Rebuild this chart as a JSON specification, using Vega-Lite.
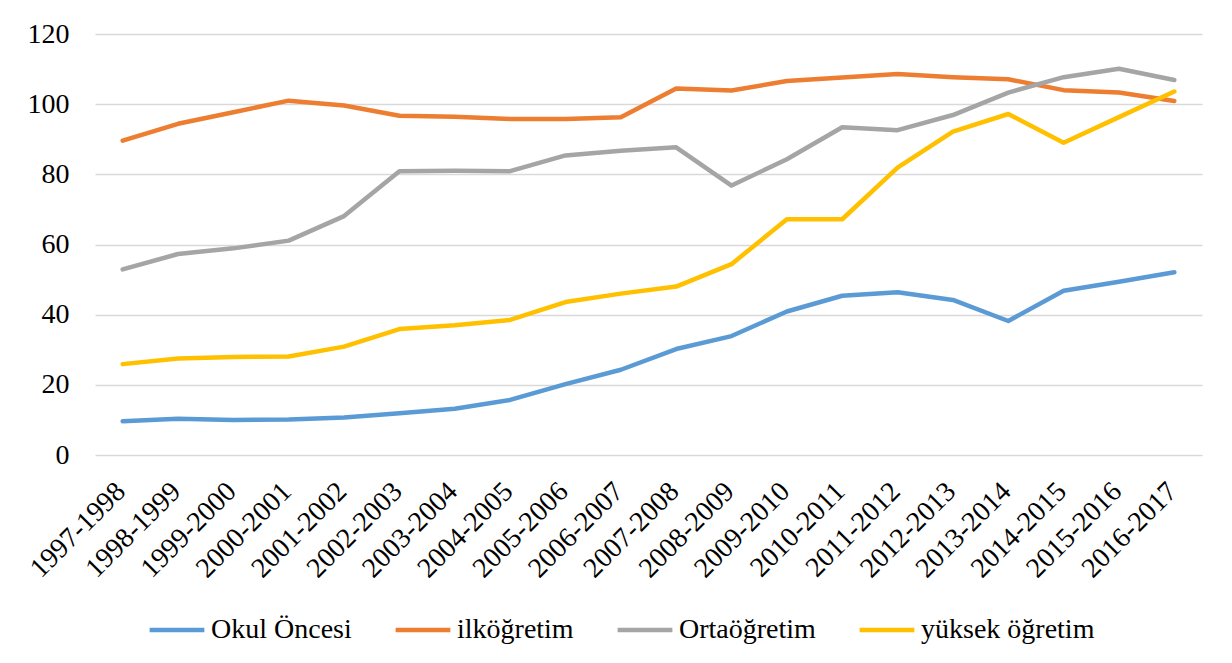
{
  "$schema": "https://vega.github.io/schema/vega-lite/v6.json",
  "width": 1107,
  "height": 421,
  "autosize": {"type": "none"},
  "padding": {"left": 95, "top": 34, "right": 30, "bottom": 208},
  "background": "white",
  "config": {
    "font": "Liberation Serif",
    "view": {"stroke": null},
    "text": {"font": "Liberation Serif"}
  },
  "data": {
    "values": [
      {"year": "1997-1998", "Okul Öncesi": 9.6, "ilköğretim": 89.6, "Ortaöğretim": 52.9, "yüksek öğretim": 25.9},
      {"year": "1998-1999", "Okul Öncesi": 10.3, "ilköğretim": 94.4, "Ortaöğretim": 57.3, "yüksek öğretim": 27.5},
      {"year": "1999-2000", "Okul Öncesi": 10.0, "ilköğretim": 97.7, "Ortaöğretim": 58.9, "yüksek öğretim": 27.9},
      {"year": "2000-2001", "Okul Öncesi": 10.1, "ilköğretim": 101.0, "Ortaöğretim": 61.1, "yüksek öğretim": 28.1},
      {"year": "2001-2002", "Okul Öncesi": 10.7, "ilköğretim": 99.6, "Ortaöğretim": 68.1, "yüksek öğretim": 30.9},
      {"year": "2002-2003", "Okul Öncesi": 11.9, "ilköğretim": 96.7, "Ortaöğretim": 80.9, "yüksek öğretim": 35.9},
      {"year": "2003-2004", "Okul Öncesi": 13.2, "ilköğretim": 96.4, "Ortaöğretim": 81.0, "yüksek öğretim": 37.0},
      {"year": "2004-2005", "Okul Öncesi": 15.7, "ilköğretim": 95.8, "Ortaöğretim": 80.9, "yüksek öğretim": 38.5},
      {"year": "2005-2006", "Okul Öncesi": 20.2, "ilköğretim": 95.8, "Ortaöğretim": 85.4, "yüksek öğretim": 43.6},
      {"year": "2006-2007", "Okul Öncesi": 24.3, "ilköğretim": 96.3, "Ortaöğretim": 86.7, "yüksek öğretim": 46.0},
      {"year": "2007-2008", "Okul Öncesi": 30.2, "ilköğretim": 104.5, "Ortaöğretim": 87.7, "yüksek öğretim": 48.0},
      {"year": "2008-2009", "Okul Öncesi": 33.9, "ilköğretim": 103.9, "Ortaöğretim": 76.8, "yüksek öğretim": 54.4},
      {"year": "2009-2010", "Okul Öncesi": 40.9, "ilköğretim": 106.6, "Ortaöğretim": 84.3, "yüksek öğretim": 67.2},
      {"year": "2010-2011", "Okul Öncesi": 45.4, "ilköğretim": 107.6, "Ortaöğretim": 93.4, "yüksek öğretim": 67.2},
      {"year": "2011-2012", "Okul Öncesi": 46.4, "ilköğretim": 108.6, "Ortaöğretim": 92.6, "yüksek öğretim": 81.9},
      {"year": "2012-2013", "Okul Öncesi": 44.2, "ilköğretim": 107.7, "Ortaöğretim": 96.9, "yüksek öğretim": 92.2},
      {"year": "2013-2014", "Okul Öncesi": 38.2, "ilköğretim": 107.1, "Ortaöğretim": 103.3, "yüksek öğretim": 97.2},
      {"year": "2014-2015", "Okul Öncesi": 46.8, "ilköğretim": 104.0, "Ortaöğretim": 107.7, "yüksek öğretim": 89.0},
      {"year": "2015-2016", "Okul Öncesi": 49.4, "ilköğretim": 103.3, "Ortaöğretim": 110.1, "yüksek öğretim": 96.3},
      {"year": "2016-2017", "Okul Öncesi": 52.1, "ilköğretim": 100.9, "Ortaöğretim": 106.9, "yüksek öğretim": 103.6}
    ]
  },
  "transform": [
    {"fold": ["Okul Öncesi", "ilköğretim", "Ortaöğretim", "yüksek öğretim"], "as": ["series", "value"]}
  ],
  "mark": {"type": "line", "strokeWidth": 4.5, "strokeCap": "round", "strokeJoin": "round"},
  "encoding": {
    "x": {
      "field": "year",
      "type": "ordinal",
      "scale": {"type": "point", "padding": 0.5},
      "axis": {
        "title": null,
        "domain": false,
        "ticks": false,
        "grid": false,
        "labelAngle": -45,
        "labelAlign": "right",
        "labelBaseline": "middle",
        "labelFont": "Liberation Serif",
        "labelFontSize": 28,
        "labelColor": "#000000",
        "labelPadding": 32,
        "labelOffset": -2
      }
    },
    "y": {
      "field": "value",
      "type": "quantitative",
      "scale": {"domain": [0, 120], "nice": false},
      "axis": {
        "title": null,
        "values": [0, 20, 40, 60, 80, 100, 120],
        "domain": false,
        "ticks": false,
        "gridColor": "#D9D9D9",
        "gridWidth": 1.5,
        "labelFont": "Liberation Serif",
        "labelFontSize": 28,
        "labelColor": "#000000",
        "labelPadding": 26
      }
    },
    "color": {
      "field": "series",
      "type": "nominal",
      "scale": {
        "domain": ["Okul Öncesi", "ilköğretim", "Ortaöğretim", "yüksek öğretim"],
        "range": ["#5B9BD5", "#ED7D31", "#A5A5A5", "#FFC000"]
      },
      "legend": {
        "title": null,
        "orient": "none",
        "legendX": 52,
        "legendY": 566,
        "direction": "horizontal",
        "symbolType": "stroke",
        "symbolSize": 3000,
        "symbolStrokeWidth": 4.5,
        "labelFont": "Liberation Serif",
        "labelFontSize": 28,
        "labelColor": "#000000",
        "labelOffset": 4,
        "labelLimit": 400,
        "columnPadding": 34
      }
    }
  }
}
